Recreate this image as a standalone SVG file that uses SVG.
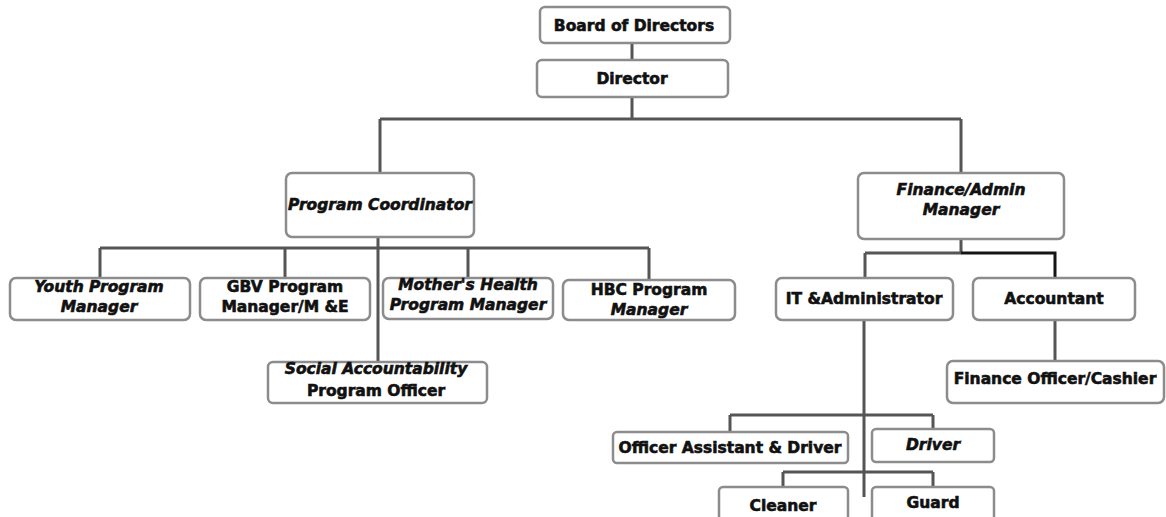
<svg xmlns="http://www.w3.org/2000/svg" width="1166" height="517" viewBox="0 0 1166 517">
<style>
.box{fill:#fff;stroke:#8c8c8c;stroke-width:2.5}
.t{font-family:"DejaVu Sans",Verdana,sans-serif;font-weight:bold;font-size:15.5px;fill:#111;stroke:#111;stroke-width:0.6;text-anchor:middle}
.i{font-style:italic}
.c{fill:none;stroke:#555;stroke-width:3}
.k{fill:none;stroke:#151515;stroke-width:3}
</style>
<rect width="1166" height="517" fill="#fff"/>
<g id="connectors">
<path class="c" d="M632 43V60M632 97V119M380 119H961M380 119V173M961 119V173"/>
<path class="c" d="M378 237V362M100 248H649M100 248V278M285 248V278M468 248V278M649 248V280"/>
<path class="c" d="M961 239V253M865 253H961M865 253V278"/>
<path class="k" d="M961 253H1055V278"/>
<path class="c" d="M1055 320V361"/>
<path class="c" d="M864 320V497M730 415H933M730 415V432M933 415V429M783 472H933M783 472V487M933 472V487"/>
</g>
<g id="board"><rect class="box" x="540" y="7" width="190" height="36" rx="5"/><text class="t" x="634" y="31">Board of Directors</text></g>
<g id="director"><rect class="box" x="537" y="60" width="191" height="37" rx="5"/><text class="t" x="632" y="84">Director</text></g>
<g id="program-coordinator"><rect class="box" x="286" y="173" width="188" height="64" rx="6"/><text class="t i" x="380" y="210">Program Coordinator</text></g>
<g id="finance-admin"><rect class="box" x="858" y="173" width="206" height="66" rx="6"/><text class="t i" x="961" y="195">Finance/Admin</text><text class="t i" x="961" y="215">Manager</text></g>
<g id="youth"><rect class="box" x="10" y="278" width="180" height="42" rx="6"/><text class="t i" x="99" y="292">Youth Program</text><text class="t i" x="99" y="312">Manager</text></g>
<g id="gbv"><rect class="box" x="200" y="278" width="170" height="42" rx="6"/><text class="t" x="285" y="292">GBV Program</text><text class="t" x="285" y="312">Manager/M &amp;E</text></g>
<g id="mothers-health"><rect class="box" x="383" y="278" width="170" height="41" rx="6"/><text class="t i" x="468" y="290">Mother's Health</text><text class="t i" x="468" y="310">Program Manager</text></g>
<g id="hbc"><rect class="box" x="563" y="280" width="172" height="40" rx="6"/><text class="t" x="649" y="295">HBC Program</text><text class="t i" x="649" y="315">Manager</text></g>
<g id="social-accountability"><rect class="box" x="268" y="362" width="219" height="41" rx="5"/><text class="t i" x="376" y="374">Social Accountability</text><text class="t" x="376" y="396">Program Officer</text></g>
<g id="it-admin"><rect class="box" x="776" y="278" width="177" height="42" rx="6"/><text class="t" x="864" y="304">IT &amp;Administrator</text></g>
<g id="accountant"><rect class="box" x="973" y="278" width="162" height="42" rx="6"/><text class="t" x="1054" y="304">Accountant</text></g>
<g id="finance-officer"><rect class="box" x="947" y="361" width="217" height="42" rx="6"/><text class="t" x="1055" y="384">Finance Officer/Cashier</text></g>
<g id="officer-assistant"><rect class="box" x="613" y="432" width="235" height="31" rx="4"/><text class="t" x="730" y="453">Officer Assistant &amp; Driver</text></g>
<g id="driver"><rect class="box" x="872" y="429" width="122" height="33" rx="4"/><text class="t i" x="933" y="450">Driver</text></g>
<g id="cleaner"><rect class="box" x="719" y="487" width="129" height="40" rx="4"/><text class="t" x="783" y="511">Cleaner</text></g>
<g id="guard"><rect class="box" x="872" y="487" width="122" height="40" rx="4"/><text class="t" x="933" y="508">Guard</text></g>
</svg>
